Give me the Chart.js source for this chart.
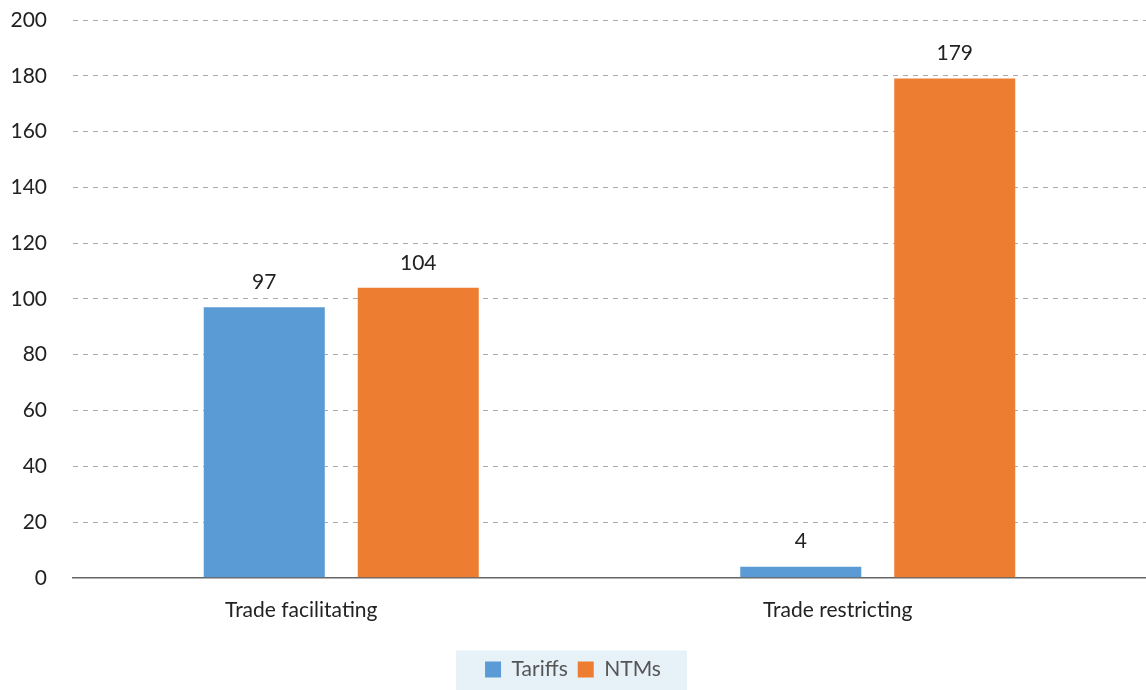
<!DOCTYPE html>
<html>
<head>
<meta charset="utf-8">
<script src="https://cdn.jsdelivr.net/npm/chart.js@4"></script>
<style>
  body { margin: 0; background: #fff; }
  #wrap { width: 1146px; height: 690px; }
</style>
</head>
<body>
<div id="wrap"><canvas id="myChart" width="1146" height="690"></canvas></div>
<script>
const categories = ['Trade facilitating', 'Trade restricting'];
const tariffs = [97, 4];
const ntms = [104, 179];
const yTicks = [0, 20, 40, 60, 80, 100, 120, 140, 160, 180, 200];

// labels above each bar
const barLabels = {
  id: 'barLabels',
  afterDatasetsDraw(chart) {
    const ctx = chart.ctx;
    ctx.save();
    ctx.font = '21px Lato';
    ctx.fillStyle = '#222';
    ctx.textAlign = 'center';
    ctx.textBaseline = 'middle';
    chart.data.datasets.forEach((ds, i) => {
      chart.getDatasetMeta(i).data.forEach((bar, j) => {
        ctx.fillText(ds.data[j], bar.x, bar.y - 25);
      });
    });
    ctx.restore();
  }
};

// light box behind the legend
const legendBg = {
  id: 'legendBg',
  beforeDraw(chart) {
    const boxes = chart.legend.legendHitBoxes;
    if (!boxes || !boxes.length) return;
    const first = boxes[0], last = boxes[boxes.length - 1];
    const ctx = chart.ctx;
    const mid = first.top + first.height / 2;
    ctx.save();
    ctx.fillStyle = '#e6f1f8';
    ctx.fillRect(first.left - 29, mid - 19, last.left + last.width - first.left + 55, chart.height - mid + 19);
    ctx.restore();
  }
};

let ctx = document.getElementById('myChart');
let myChart = new Chart(ctx, {
  type: 'bar',
  data: {
    labels: categories,
    datasets: [
      { label: 'Tariffs', data: tariffs, backgroundColor: '#5b9bd5' },
      { label: 'NTMs', data: ntms, backgroundColor: '#ed7d31' }
    ]
  },
  options: {
    responsive: false,
    animation: false,
    categoryPercentage: 0.574,
    barPercentage: 0.786,
    layout: { padding: { top: 8, right: 0, left: 0, bottom: 0 } },
    scales: {
      x: {
        grid: { display: false, drawTicks: false },
        border: { display: true, color: '#666', width: 1.5 },
        ticks: {
          color: '#222',
          font: { family: 'Lato', size: 21 },
          padding: 20,
          labelOffset: -40
        },
        afterFit: axis => { axis.height += 6; }
      },
      y: {
        min: 0,
        max: 200,
        afterBuildTicks: axis => { axis.ticks = yTicks.map(v => ({ value: v })); },
        afterFit: axis => {
          axis.width = 73;
          axis.paddingTop = 20;
          axis.paddingBottom = 0;
        },
        grid: {
          color: '#aaa',
          drawTicks: false,
          lineWidth: 1
        },
        border: { display: false, dash: [5, 5] },
        ticks: {
          color: '#222',
          font: { family: 'Lato', size: 21 },
          padding: 26
        }
      }
    },
    plugins: {
      legend: {
        position: 'bottom',
        labels: {
          boxWidth: 16,
          boxHeight: 16,
          padding: 10,
          color: '#555',
          font: { family: 'Lato', size: 21 }
        }
      },
      tooltip: { enabled: false }
    }
  },
  plugins: [barLabels, legendBg]
});
</script>
</body>
</html>
